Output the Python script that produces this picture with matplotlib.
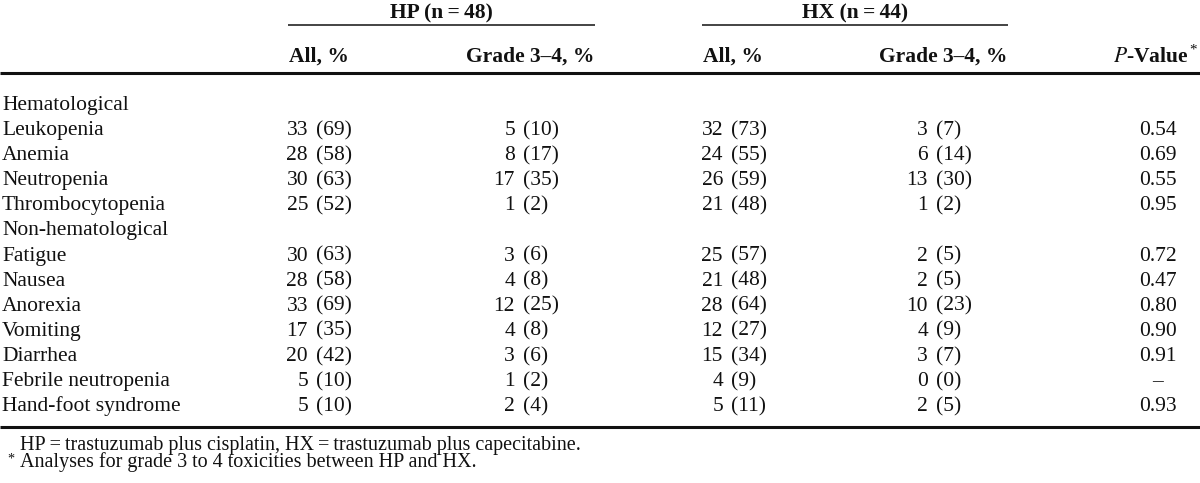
import matplotlib
matplotlib.use("Agg")
import matplotlib.pyplot as plt

plt.rcParams['font.family'] = ['Liberation Serif', 'DejaVu Serif']

# table data
groups = ["Hematological", "Non-hematological"]
group_rows = [
    ["Leukopenia", "Anemia", "Neutropenia", "Thrombocytopenia"],
    ["Fatigue", "Nausea", "Anorexia", "Vomiting", "Diarrhea",
     "Febrile neutropenia", "Hand-foot syndrome"],
]
hp_all = [33, 28, 30, 25, 30, 28, 33, 17, 20, 5, 5]
hp_all_pct = [69, 58, 63, 52, 63, 58, 69, 35, 42, 10, 10]
hp_g34 = [5, 8, 17, 1, 3, 4, 12, 4, 3, 1, 2]
hp_g34_pct = [10, 17, 35, 2, 6, 8, 25, 8, 6, 2, 4]
hx_all = [32, 24, 26, 21, 25, 21, 28, 12, 15, 4, 5]
hx_all_pct = [73, 55, 59, 48, 57, 48, 64, 27, 34, 9, 11]
hx_g34 = [3, 6, 13, 1, 2, 2, 10, 4, 3, 0, 2]
hx_g34_pct = [7, 14, 30, 2, 5, 5, 23, 9, 7, 0, 5]
p_values = ["0.54", "0.69", "0.55", "0.95", "0.72", "0.47", "0.80",
            "0.90", "0.91", "\u2013", "0.93"]

footnotes = [
    "HP\u2009=\u2009trastuzumab plus cisplatin, HX\u2009=\u2009trastuzumab plus capecitabine.",
    "Analyses for grade 3 to 4 toxicities between HP and HX.",
]

W, H = 1200, 483
fig = plt.figure(figsize=(W / 100, H / 100), dpi=100)
ax = fig.add_axes([0, 0, 1, 1])
ax.set_xlim(0, W)
ax.set_ylim(H, 0)
ax.axis('off')

fs = 15.5
ink = "#111111"

# spanning headers
ax.text(441.5, 18, "HP (n\u2009=\u200948)", ha='center', va='baseline',
        fontsize=fs, fontweight='bold', color=ink)
ax.text(855, 18, "HX (n\u2009=\u200944)", ha='center', va='baseline',
        fontsize=fs, fontweight='bold', color=ink)
ax.plot([288, 595], [25, 25], color=ink, lw=1.1, solid_capstyle='butt')
ax.plot([702, 1008], [25, 25], color=ink, lw=1.1, solid_capstyle='butt')

# column headers
hy = 62
ax.text(289, hy, "All, %", ha='left', va='baseline', fontsize=fs,
        fontweight='bold', color=ink)
ax.text(594, hy, "Grade 3\u20134, %", ha='right', va='baseline', fontsize=fs,
        fontweight='bold', color=ink)
ax.text(703, hy, "All, %", ha='left', va='baseline', fontsize=fs,
        fontweight='bold', color=ink)
ax.text(1007, hy, "Grade 3\u20134, %", ha='right', va='baseline', fontsize=fs,
        fontweight='bold', color=ink)
ax.text(1189, hy, r"$\mathbf{\mathit{P}}$" + "-Value", ha='right', va='baseline',
        fontsize=fs, fontweight='bold', color=ink,
        math_fontfamily='stix')
ax.text(1189, hy - 8, "*", ha='left', va='baseline', fontsize=fs * 0.7,
        color=ink)

# rules
ax.plot([0, W], [73, 73], color=ink, lw=2.2, solid_capstyle='butt')
ax.plot([0, W], [427, 427], color=ink, lw=2.2, solid_capstyle='butt')

# body
row_y0 = 103
step = 25.1
base = 7
cols = [
    (hp_all, hp_all_pct, 308, 316),
    (hp_g34, hp_g34_pct, 515, 523),
    (hx_all, hx_all_pct, 723, 731),
    (hx_g34, hx_g34_pct, 928, 936),
]

r = 0
i = 0
for g, names in zip(groups, group_rows):
    ax.text(2, row_y0 + r * step + base, g, ha='left', va='baseline',
            fontsize=fs, color=ink)
    r += 1
    for name in names:
        y = row_y0 + r * step + base
        ax.text(2, y, name, ha='left', va='baseline', fontsize=fs, color=ink)
        for n, pct, xr, xl in cols:
            ax.text(xr, y, str(n[i]), ha='right', va='baseline',
                    fontsize=fs, color=ink)
            ax.text(xl, y, f"({pct[i]})", ha='left', va='baseline',
                    fontsize=fs, color=ink)
        ax.text(1158, y, p_values[i], ha='center', va='baseline',
                fontsize=fs, color=ink)
        r += 1
        i += 1

# footnotes (one block so the tight lines do not collide)
fn_fs = 14.5
ax.text(20, 467, "\n".join(footnotes), ha='left', va='baseline',
        fontsize=fn_fs, color=ink, linespacing=0.8, multialignment='left')
ax.text(7, 463, "*", ha='left', va='baseline', fontsize=fn_fs * 0.7,
        color=ink)

fig.savefig("out.png", dpi=100, facecolor='white')
